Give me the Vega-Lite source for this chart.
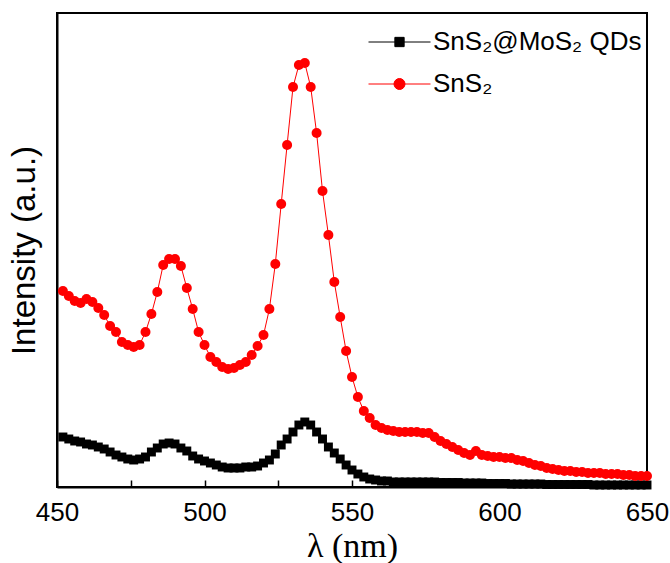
{
  "$schema": "https://vega.github.io/schema/vega-lite/v6.json",
  "width": 590,
  "height": 474,
  "autosize": "none",
  "padding": {"left": 57, "top": 13, "right": 23, "bottom": 76},
  "background": "white",
  "config": {
    "view": {"stroke": "black", "strokeWidth": 2},
    "axis": {"domainColor": "black", "domainWidth": 2, "grid": false, "labelColor": "black", "titleColor": "black", "tickColor": "black"},
    "legend": {
      "orient": "none", "legendX": 326.5, "legendY": 13, "title": null,
      "padding": 0, "rowPadding": 13, "symbolSize": 961, "labelOffset": 17.5,
      "labelFont": "Liberation Sans", "labelFontSize": 26, "labelColor": "black", "labelLimit": 400,
      "symbolOpacity": 1, "symbolStrokeWidth": 1
    }
  },
  "datasets": {
    "black": [
      {"x":452,"y":50},{"x":454,"y":48},{"x":456,"y":46},{"x":458,"y":45},{"x":460,"y":43},
      {"x":462,"y":42},{"x":464,"y":40},{"x":466,"y":38},{"x":468,"y":35},{"x":470,"y":32},
      {"x":472,"y":30},{"x":474,"y":28},{"x":476,"y":27},{"x":478,"y":28},{"x":480,"y":30},
      {"x":482,"y":35},{"x":484,"y":39},{"x":486,"y":43},{"x":488,"y":44},{"x":490,"y":43},
      {"x":492,"y":39},{"x":494,"y":36},{"x":496,"y":31},{"x":498,"y":28},{"x":500,"y":26},
      {"x":502,"y":24},{"x":504,"y":22},{"x":506,"y":20},{"x":508,"y":19},{"x":510,"y":19},
      {"x":512,"y":19},{"x":514,"y":20},{"x":516,"y":20},{"x":518,"y":21},{"x":520,"y":24},
      {"x":522,"y":27},{"x":524,"y":33},{"x":526,"y":42},{"x":528,"y":48},{"x":530,"y":55},
      {"x":532,"y":62},{"x":534,"y":65},{"x":536,"y":62},{"x":538,"y":55},{"x":540,"y":48},
      {"x":542,"y":40},{"x":544,"y":34},{"x":546,"y":28},{"x":548,"y":22},{"x":550,"y":17},
      {"x":552,"y":13},{"x":554,"y":10},{"x":556,"y":8},{"x":558,"y":7},{"x":560,"y":6},
      {"x":562,"y":6},{"x":564,"y":5},{"x":566,"y":5},{"x":568,"y":5},{"x":570,"y":5},
      {"x":572,"y":5},{"x":574,"y":5},{"x":576,"y":5},{"x":578,"y":5},{"x":580,"y":4.5},
      {"x":582,"y":4.5},{"x":584,"y":4.5},{"x":586,"y":4.5},{"x":588,"y":4},{"x":590,"y":4},
      {"x":592,"y":4},{"x":594,"y":4},{"x":596,"y":3.5},{"x":598,"y":3.5},{"x":600,"y":3.5},
      {"x":602,"y":3.5},{"x":604,"y":3},{"x":606,"y":3},{"x":608,"y":3},{"x":610,"y":3},
      {"x":612,"y":3},{"x":614,"y":3},{"x":616,"y":2.5},{"x":618,"y":2.5},{"x":620,"y":2.5},
      {"x":622,"y":2.5},{"x":624,"y":2.5},{"x":626,"y":2.5},{"x":628,"y":2.5},{"x":630,"y":2.5},
      {"x":632,"y":2},{"x":634,"y":2},{"x":636,"y":2},{"x":638,"y":2},{"x":640,"y":2},
      {"x":642,"y":2},{"x":644,"y":2},{"x":646,"y":2},{"x":648,"y":2},{"x":650,"y":2}
    ],
    "red": [
      {"x":452,"y":196},{"x":454,"y":191},{"x":456,"y":186},{"x":458,"y":184},{"x":460,"y":188},
      {"x":462,"y":185},{"x":464,"y":179},{"x":466,"y":172},{"x":468,"y":161},{"x":470,"y":155},
      {"x":472,"y":145},{"x":474,"y":142},{"x":476,"y":140},{"x":478,"y":142},{"x":480,"y":155},
      {"x":482,"y":173},{"x":484,"y":195},{"x":486,"y":222},{"x":488,"y":228},{"x":490,"y":228},
      {"x":492,"y":221},{"x":494,"y":199},{"x":496,"y":178},{"x":498,"y":155},{"x":500,"y":142},
      {"x":502,"y":130},{"x":504,"y":125},{"x":506,"y":120},{"x":508,"y":118},{"x":510,"y":119},
      {"x":512,"y":122},{"x":514,"y":125},{"x":516,"y":132},{"x":518,"y":141},{"x":520,"y":152},
      {"x":522,"y":178},{"x":524,"y":223},{"x":526,"y":283},{"x":528,"y":342},{"x":530,"y":400},
      {"x":532,"y":422},{"x":534,"y":424},{"x":536,"y":400},{"x":538,"y":354},{"x":540,"y":296},
      {"x":542,"y":252},{"x":544,"y":205},{"x":546,"y":170},{"x":548,"y":136},{"x":550,"y":110},
      {"x":552,"y":90},{"x":554,"y":76},{"x":556,"y":69},{"x":558,"y":62},{"x":560,"y":59},
      {"x":562,"y":57},{"x":564,"y":56},{"x":566,"y":55},{"x":568,"y":55},{"x":570,"y":55},
      {"x":572,"y":55},{"x":574,"y":54},{"x":576,"y":54},{"x":578,"y":50},{"x":580,"y":46},
      {"x":582,"y":43},{"x":584,"y":40},{"x":586,"y":37},{"x":588,"y":34},{"x":590,"y":32},
      {"x":592,"y":36},{"x":594,"y":32},{"x":596,"y":31},{"x":598,"y":30},{"x":600,"y":30},
      {"x":602,"y":29},{"x":604,"y":29},{"x":606,"y":27},{"x":608,"y":26},{"x":610,"y":24},
      {"x":612,"y":22},{"x":614,"y":21},{"x":616,"y":19},{"x":618,"y":18},{"x":620,"y":17},
      {"x":622,"y":16},{"x":624,"y":16},{"x":626,"y":15},{"x":628,"y":15},{"x":630,"y":14},
      {"x":632,"y":14},{"x":634,"y":14},{"x":636,"y":13},{"x":638,"y":13},{"x":640,"y":13},
      {"x":642,"y":12},{"x":644,"y":12},{"x":646,"y":11},{"x":648,"y":11},{"x":650,"y":11}
    ]
  },
  "encoding": {
    "x": {
      "field": "x", "type": "quantitative",
      "scale": {"domain": [450, 650], "nice": false, "zero": false},
      "axis": {
        "title": "λ (nm)", "titleFont": "Liberation Serif", "titleFontSize": 34, "titleFontWeight": "normal", "titlePadding": 4,
        "labelFont": "Liberation Sans", "labelFontSize": 26, "labelPadding": 19, "labelFlush": false, "labelOverlap": false,
        "values": [450, 475, 500, 525, 550, 575, 600, 625, 650],
        "labelExpr": "datum.value % 50 === 0 ? datum.label : ''",
        "tickSize": -7, "tickWidth": 1.5
      }
    },
    "y": {
      "field": "y", "type": "quantitative",
      "scale": {"domain": [0, 474], "nice": false},
      "axis": {
        "title": "Intensity (a.u.)", "titleFont": "Liberation Sans", "titleFontSize": 33, "titleFontWeight": "normal", "titlePadding": 16,
        "labels": false, "ticks": false
      }
    }
  },
  "layer": [
    {
      "data": {"name": "black"},
      "layer": [
        {"mark": {"type": "line", "color": "black", "strokeWidth": 1}},
        {"mark": {"type": "point", "shape": "square", "filled": true, "color": "black", "size": 80, "opacity": 1}}
      ]
    },
    {
      "data": {"name": "red"},
      "layer": [
        {"mark": {"type": "line", "color": "#ff0000", "strokeWidth": 1}},
        {"mark": {"type": "point", "shape": "circle", "filled": true, "color": "#ff0000", "size": 100, "opacity": 1}}
      ]
    },
    {
      "data": {"values": [{"s": "SnS₂@MoS₂ QDs"}, {"s": "SnS₂"}]},
      "mark": {"type": "point", "opacity": 0, "strokeWidth": 1},
      "encoding": {
        "x": {"datum": 450},
        "y": {"datum": 0},
        "fill": {
          "field": "s", "type": "nominal",
          "scale": {"domain": ["SnS₂@MoS₂ QDs", "SnS₂"], "range": ["#000000", "#ff0000"]}
        },
        "stroke": {
          "field": "s", "type": "nominal",
          "scale": {"domain": ["SnS₂@MoS₂ QDs", "SnS₂"], "range": ["#000000", "#ff0000"]}
        },
        "shape": {
          "field": "s", "type": "nominal",
          "scale": {"domain": ["SnS₂@MoS₂ QDs", "SnS₂"], "range": ["M-2,0H2M-0.3,-0.3H0.3V0.3H-0.3Z", "M-2,0H2M0.355,0A0.355,0.355 0 1,1 -0.355,0A0.355,0.355 0 1,1 0.355,0Z"]}
        }
      }
    }
  ]
}
